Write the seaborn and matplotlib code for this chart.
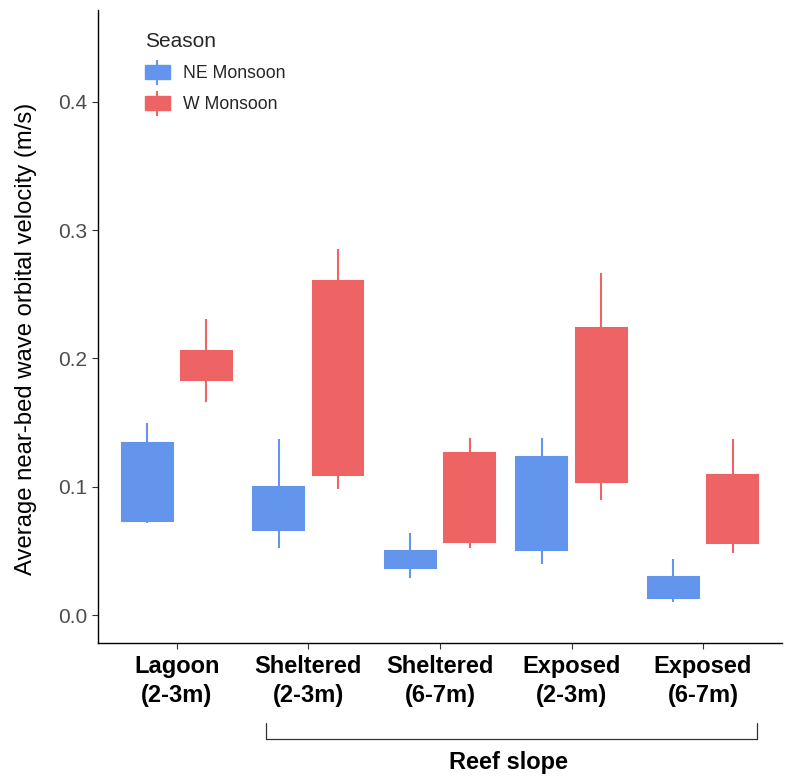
import numpy as np
import pandas as pd
import seaborn as sns
import matplotlib
matplotlib.use("Agg")
import matplotlib.pyplot as plt
from matplotlib.patches import Patch
from matplotlib.lines import Line2D
import matplotlib.transforms as mtransforms

sites = ["Lagoon\n(2-3m)", "Sheltered\n(2-3m)", "Sheltered\n(6-7m)", "Exposed\n(2-3m)", "Exposed\n(6-7m)"]
seasons = ["NE Monsoon", "W Monsoon"]

# per site: whisker low, Q1, median, Q3, whisker high
ne_low = [0.072, 0.052, 0.029, 0.040, 0.010]
ne_q1 = [0.073, 0.066, 0.037, 0.051, 0.013]
ne_med = [0.100, 0.083, 0.043, 0.087, 0.021]
ne_q3 = [0.134, 0.100, 0.050, 0.123, 0.030]
ne_high = [0.150, 0.137, 0.064, 0.138, 0.044]

w_low = [0.166, 0.098, 0.052, 0.090, 0.048]
w_q1 = [0.183, 0.109, 0.057, 0.104, 0.056]
w_med = [0.195, 0.185, 0.091, 0.164, 0.082]
w_q3 = [0.206, 0.260, 0.126, 0.224, 0.109]
w_high = [0.231, 0.285, 0.138, 0.267, 0.137]

rows = []
for i, s in enumerate(sites):
    for v in (ne_low[i], ne_q1[i], ne_med[i], ne_q3[i], ne_high[i]):
        rows.append((s, "NE Monsoon", v))
    for v in (w_low[i], w_q1[i], w_med[i], w_q3[i], w_high[i]):
        rows.append((s, "W Monsoon", v))
df = pd.DataFrame(rows, columns=["site", "season", "velocity"])

palette = {"NE Monsoon": "#6495ED", "W Monsoon": "#EE6363"}

sns.set_theme(style="white")
plt.rcParams["font.family"] = ["Liberation Sans", "DejaVu Sans"]

fig = plt.figure(figsize=(7.87, 7.80), dpi=100)
ax = fig.add_axes([0.1245, 0.1756, 0.8691, 0.8114])

sns.boxplot(data=df, x="site", y="velocity", hue="season", order=sites,
            hue_order=seasons, palette=palette, whis=np.inf, width=0.9, gap=0.14,
            fill=True, saturation=1, linewidth=1.5, showcaps=False,
            ax=ax, legend=False)

for patch in ax.patches:
    patch.set_edgecolor(patch.get_facecolor())
box_patches = list(ax.patches)
for line in ax.lines:
    xd = np.asarray(line.get_xdata(), dtype=float)
    if xd.size == 0:
        continue
    xm = xd.mean()
    best, bd = None, 1e9
    for p in box_patches:
        bb = p.get_path().get_extents()
        cx = (bb.x0 + bb.x1) / 2
        d = abs(cx - xm)
        if d < bd:
            bd, best = d, p
    if best is not None:
        line.set_color(best.get_facecolor())
        line.set_solid_capstyle("butt")

ax.set_xlim(-0.6, 4.6)
ax.set_ylim(-0.0218, 0.4715)
ax.set_yticks([0.0, 0.1, 0.2, 0.3, 0.4])
ax.set_yticklabels(["0.0", "0.1", "0.2", "0.3", "0.4"])
ax.set_xlabel("")
ax.set_ylabel("Average near-bed wave orbital velocity (m/s)", fontsize=17.2,
              color="black")
ax.yaxis.set_label_coords(-0.089, 0.48)

for side in ["top", "right"]:
    ax.spines[side].set_visible(False)
for side in ["left", "bottom"]:
    ax.spines[side].set_color("black")
    ax.spines[side].set_linewidth(1.0)

ax.tick_params(axis="y", which="both", left=True, length=4.5, width=0.8, color="#333333",
               labelsize=15, labelcolor="#4D4D4D", pad=3)
ax.tick_params(axis="x", which="both", bottom=True, length=4.5, width=0.8, color="#333333",
               labelsize=17, labelcolor="black", pad=4)
for lbl in ax.get_xticklabels():
    lbl.set_fontweight("bold")
    lbl.set_linespacing(1.35)

# legend
handles = []
for s in seasons:
    handles.append((Patch(facecolor=palette[s], edgecolor=palette[s]),
                    Line2D([], [], color=palette[s], marker="|", markersize=18,
                           markeredgewidth=1.5, linestyle="none")))
leg = ax.legend(handles, seasons, title="Season", loc="upper left",
                bbox_to_anchor=(0.045, 0.99), frameon=False, fontsize=12.7,
                title_fontsize=15, handlelength=1.42, handleheight=0.85,
                labelspacing=0.78, handletextpad=0.75, borderpad=0.4)
leg._legend_box.align = "left"

# bracket for reef slope
trans = mtransforms.blended_transform_factory(ax.transData, fig.transFigure)
ax.plot([0.68, 0.68, 4.41, 4.41], [0.0731, 0.0526, 0.0526, 0.0731], color="#333333",
        lw=0.9, transform=trans, clip_on=False)
ax.text(2.52, 0.023, "Reef slope", transform=trans, ha="center", va="center",
        fontsize=17, fontweight="bold", color="black")

fig.savefig("out.png", dpi=100)
